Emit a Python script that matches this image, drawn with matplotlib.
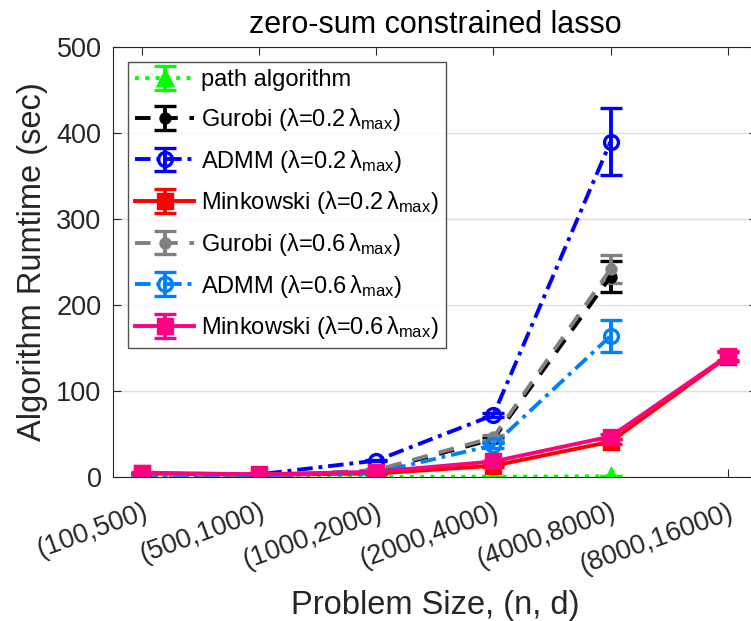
import numpy as np
import matplotlib
matplotlib.use('Agg')
import matplotlib.pyplot as plt

plt.rcParams['font.family'] = ['Liberation Sans', 'DejaVu Sans']
plt.rcParams['mathtext.fontset'] = 'custom'
plt.rcParams['mathtext.rm'] = 'Liberation Sans'
plt.rcParams['mathtext.it'] = 'Liberation Sans:italic'

sizes = ['(100,500)', '(500,1000)', '(1000,2000)', '(2000,4000)',
         '(4000,8000)', '(8000,16000)']

path_t = [0.3, 0.3, 0.3, 0.3, 0.8]
path_e = [0.1, 0.1, 0.1, 0.1, 0.2]

gurobi02_t = [1, 1, 7, 44, 233]
gurobi02_e = [0.2, 0.2, 1, 3, 18]
admm02_t = [0.5, 3, 19, 72, 390]
admm02_e = [0.2, 0.5, 1, 2, 39]
mink02_t = [4, 2.5, 4, 13, 41, 140]
mink02_e = [1, 0.5, 0.5, 1, 3, 5]

gurobi06_t = [1, 1, 8, 46, 242]
gurobi06_e = [0.2, 0.2, 1, 3, 16]
admm06_t = [0.5, 2, 5, 37, 164]
admm06_e = [0.2, 0.3, 1, 3, 19]
mink06_t = [5, 3, 6, 18, 47, 141]
mink06_e = [1, 0.5, 0.5, 1, 3, 5]

lam = lambda v: r'($\mathrm{\lambda}$=' + v + r'$\,\mathrm{\lambda}_{\rm max}$)'

series = [
    (path_t, path_e, 'path algorithm', (0, 1, 0), ':', '^', 'full'),
    (gurobi02_t, gurobi02_e, 'Gurobi ' + lam('0.2'), 'k', (0, (4, 3)), '.', 'full'),
    (admm02_t, admm02_e, 'ADMM ' + lam('0.2'), (0, 0, 1), (0, (4, 1.5, 1, 1.5)), 'o', 'none'),
    (mink02_t, mink02_e, 'Minkowski ' + lam('0.2'), (1, 0, 0), '-', 's', 'full'),
    (gurobi06_t, gurobi06_e, 'Gurobi ' + lam('0.6'), (0.5, 0.5, 0.5), (0, (4, 3)), '.', 'full'),
    (admm06_t, admm06_e, 'ADMM ' + lam('0.6'), (0, 0.5, 1), (0, (4, 1.5, 1, 1.5)), 'o', 'none'),
    (mink06_t, mink06_e, 'Minkowski ' + lam('0.6'), (1, 0, 0.5), '-', 's', 'full'),
]

fig = plt.figure(figsize=(7.51, 6.21), dpi=100)
ax = fig.add_axes([0.150, 0.232, 0.858, 0.692])

for t, e, lab, col, ls, mk, fill in series:
    xs = np.arange(1, len(t) + 1)
    ms = 13 if mk == '.' else 10
    ax.errorbar(xs, t, yerr=e, color=col, linestyle=ls, linewidth=2.8,
                marker=mk, markersize=ms, fillstyle=fill, markeredgewidth=2.4,
                capsize=8, capthick=2.8, elinewidth=2.8, label=lab)

ax.set_xlim(0.75, 6.25)
ax.set_ylim(0, 500)
ax.set_xticks(np.arange(1, 7))
ax.set_xticklabels(sizes, rotation=20, ha='right', va='top', rotation_mode='anchor')
ax.set_yticks([0, 100, 200, 300, 400, 500])
ax.tick_params(direction='in', length=6, labelsize=19.5, top=True, right=True,
               colors='0.15')
ax.tick_params(axis='x', pad=16)
ax.tick_params(axis='y', pad=8)
ax.yaxis.grid(True, color='0.88', linewidth=1)
ax.set_axisbelow(True)
for s in ax.spines.values():
    s.set_color('0.15')

ax.set_xlabel('Problem Size, (n, d)', fontsize=23.5, color='0.15', labelpad=8)
ax.set_ylabel('Algorithm Rumtime (sec)', fontsize=23.5, color='0.15', labelpad=6)
ax.set_title('zero-sum constrained lasso', fontsize=22, pad=10)

leg = ax.legend(loc='upper left', bbox_to_anchor=(0.024, 0.965), fontsize=17,
                frameon=True, fancybox=False, edgecolor='0.15',
                handlelength=2.5, handletextpad=0.3, labelspacing=0.62,
                borderpad=0.3, borderaxespad=0)
leg.get_frame().set_linewidth(1)

fig.savefig('out.png', dpi=100)
